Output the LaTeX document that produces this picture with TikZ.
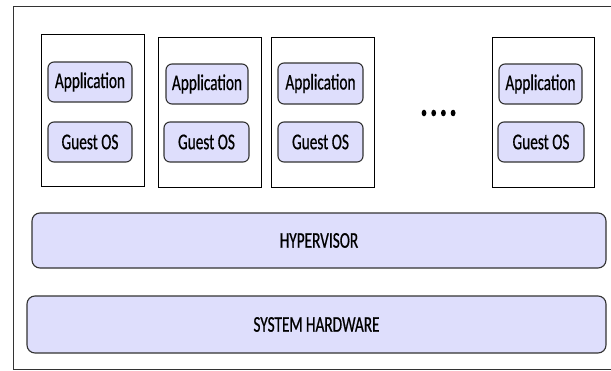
\documentclass[tikz,border=0pt]{standalone}
\usepackage{fontspec}
\newfontfamily\diafont[FakeStretch=0.68,FakeBold=0.6]{Carlito}
\definecolor{lav}{HTML}{DEDEFC}
\definecolor{edge}{HTML}{333333}
\begin{document}
\begin{tikzpicture}[x=1pt,y=-1pt,
  vmbox/.style={draw=black,line width=0.9pt},
  layer/.style={draw=edge,fill=lav,line width=1.1pt,rounded corners=6pt,font=\diafont\fontsize{22.5}{26}\selectfont},
  band/.style={draw=edge,fill=lav,line width=1.1pt,rounded corners=8pt,font=\diafont\fontsize{22.5}{26}\selectfont}]
\useasboundingbox (0,0) rectangle (611,370);
\fill[white] (0,0) rectangle (611,370);
% outer frame (right side cut off by picture edge)
\draw[draw=edge,line width=1pt] (612,6) -- (13,6) -- (13,369) -- (612,369);
% VM boxes
\draw[vmbox] (41,34) rectangle (144,186) coordinate (vm1);
\draw[vmbox] (158,37) rectangle (261,187) coordinate (vm2);
\draw[vmbox] (271,37) rectangle (374,187) coordinate (vm3);
\draw[vmbox] (492,37) rectangle (594,187) coordinate (vm4);
% Applications and guest OS
\draw[layer] (48,62) rectangle (132,102) node[midway,text=black] (a1) {Application};
\draw[layer] (48,122) rectangle (132,162) node[midway,text=black] (g1) {Guest OS};
\draw[layer] (166,64) rectangle (248,104) node[midway,text=black] (a2) {Application};
\draw[layer] (164,122) rectangle (249,162) node[midway,text=black] (g2) {Guest OS};
\draw[layer] (278,63) rectangle (363,104) node[midway,text=black] (a3) {Application};
\draw[layer] (278,122) rectangle (363,162) node[midway,text=black] (g3) {Guest OS};
\draw[layer] (499,64) rectangle (582,104) node[midway,text=black] (a4) {Application};
\draw[layer] (498,122) rectangle (584,162) node[midway,text=black] (g4) {Guest OS};
% dots
\foreach \i in {0,1,2,3} \fill[black] (424+\i*9.7,113) ellipse (2.4pt and 3.3pt);
% layers
\draw[band] (32,213) rectangle (606,268) node[midway,text=black] (hv) {HYPERVISOR};
\draw[band] (27,296) rectangle (606,353) node[midway,text=black] (hw) {SYSTEM HARDWARE};
\end{tikzpicture}
\end{document}
